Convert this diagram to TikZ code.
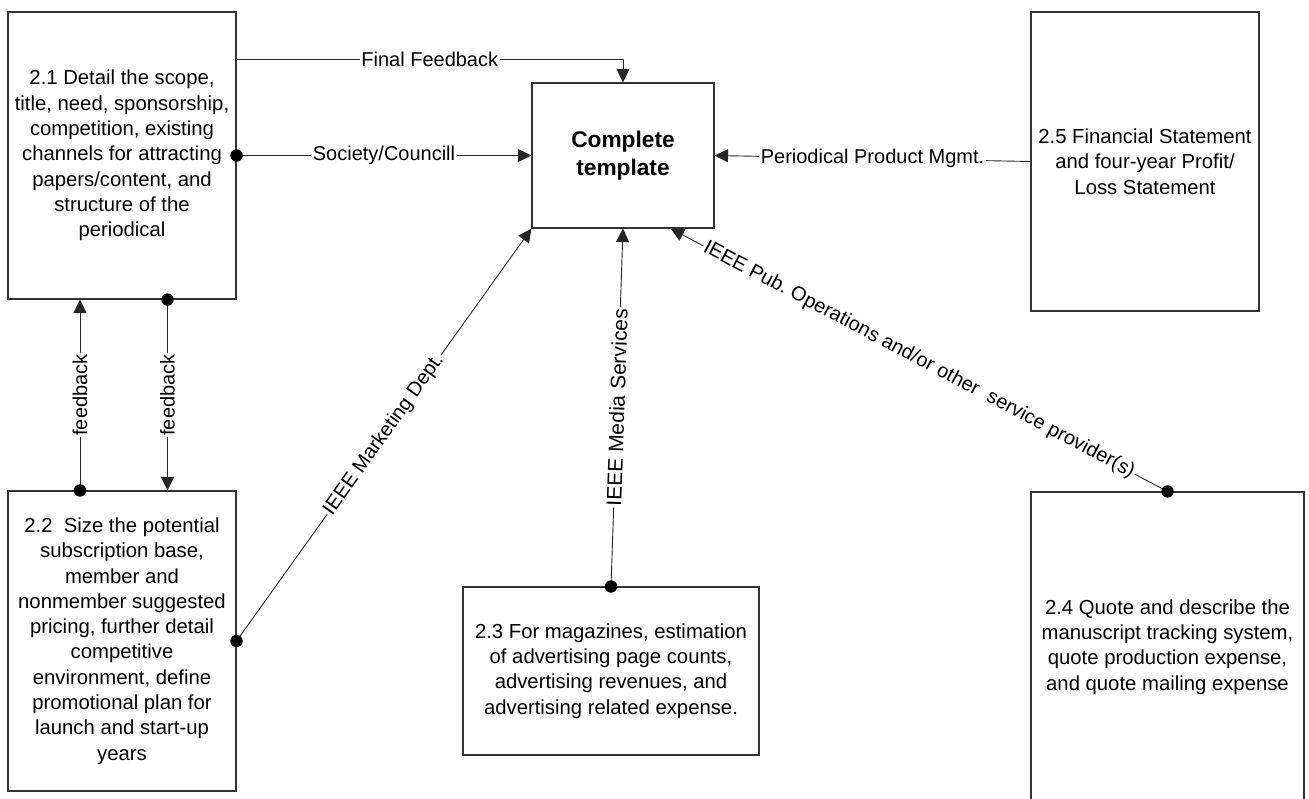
\documentclass[tikz,border=0pt]{standalone}
\usepackage{fontspec}
\setmainfont{Liberation Sans}
\usetikzlibrary{arrows.meta,calc}
\begin{document}
\frenchspacing
\begin{tikzpicture}[x=1pt,y=-1pt,
  box/.style={draw=black!80, line width=1.1pt, inner sep=0pt, align=center,
    font=\fontsize{20.3}{25.3}\selectfont},
  hub/.style={box, font=\bfseries\fontsize{22.7}{27.7}\selectfont},
  flow/.style={draw=black!85, line width=0.9pt, -{Triangle[length=13.5pt,width=13pt]}},
  lbl/.style={fill=white, inner sep=1.5pt, font=\fontsize{20}{24}\selectfont},
  lblwide/.style={lbl, font=\fontsize{21}{24}\selectfont},
  dotmark/.style={fill=black}
]
\useasboundingbox (0,0) rectangle (1309,798);

% process boxes
\node[box, minimum width=228pt, minimum height=287pt] (b21) at (122,155.5)
  {2.1 Detail the scope,\\ title, need, sponsorship,\\ competition, existing\\
   channels for attracting\\ papers/content, and\\ structure of the\\ periodical};
\node[box, minimum width=228pt, minimum height=300pt] (b22) at (122,641)
  {2.2\ \ Size the potential\\ subscription base,\\ member and\\ nonmember suggested\\
   pricing, further detail\\ competitive\\ environment, define\\ promotional plan for\\
   launch and start-up\\ years};
\node[box, minimum width=296pt, minimum height=168pt] (b23) at (611,671)
  {2.3 For magazines, estimation\\ of advertising page counts,\\ advertising revenues, and\\
   advertising related expense.};
\node[box, minimum width=273pt, minimum height=310pt] (b24) at (1167.5,647)
  {2.4 Quote and describe the\\ manuscript tracking system,\\ quote production expense,\\
   and quote mailing expense};
\node[box, minimum width=228pt, minimum height=299pt] (b25) at (1145,161.5)
  {2.5 Financial Statement\\ and four-year Profit/\\ Loss Statement};
\node[hub, minimum width=182pt, minimum height=145pt] (ct) at (623,155.5)
  {Complete\\ template};

% helper positions for connectors
\coordinate (ffy) at (0,59);
\coordinate (fbL) at (80,0);
\coordinate (fbR) at (167.5,0);
\coordinate (ctPub) at ($(ct.south west)!0.76!(ct.south east)$);

% connectors
\draw[flow] (b21.east |- ffy) -| node[lbl, pos=0.25] {Final Feedback} (ct.north);
\draw[flow] (b21.east) -- node[lbl] {Society/Councill} (ct.west);
\draw[flow] (b25.west) -- node[lbl] {Periodical Product Mgmt.} (ct.east);
\draw[flow] (b22.north -| fbL) -- node[lbl, rotate=90] {feedback} (b21.south -| fbL);
\draw[flow] (b21.south -| fbR) -- node[lbl, rotate=90] {feedback} (b22.north -| fbR);
\draw[flow] (b22.east) -- node[lbl, sloped] {IEEE Marketing Dept.} (ct.south west);
\draw[flow] (b23.north) -- node[lblwide, sloped] {IEEE\ Media\ Services} (ct.south);
\draw[flow] (b24.north) -- node[lbl, sloped]
  {IEEE Pub. Operations and/or other\ \ service provider(s)} (ctPub);

% connection dots
\fill[dotmark] (b21.east) circle[radius=6.2pt];
\fill[dotmark] (b21.south -| fbR) circle[radius=6.2pt];
\fill[dotmark] (b22.north -| fbL) circle[radius=6.2pt];
\fill[dotmark] (b22.east) circle[radius=6.2pt];
\fill[dotmark] (b23.north) circle[radius=6.2pt];
\fill[dotmark] (b24.north) circle[radius=6.2pt];
\end{tikzpicture}
\end{document}
